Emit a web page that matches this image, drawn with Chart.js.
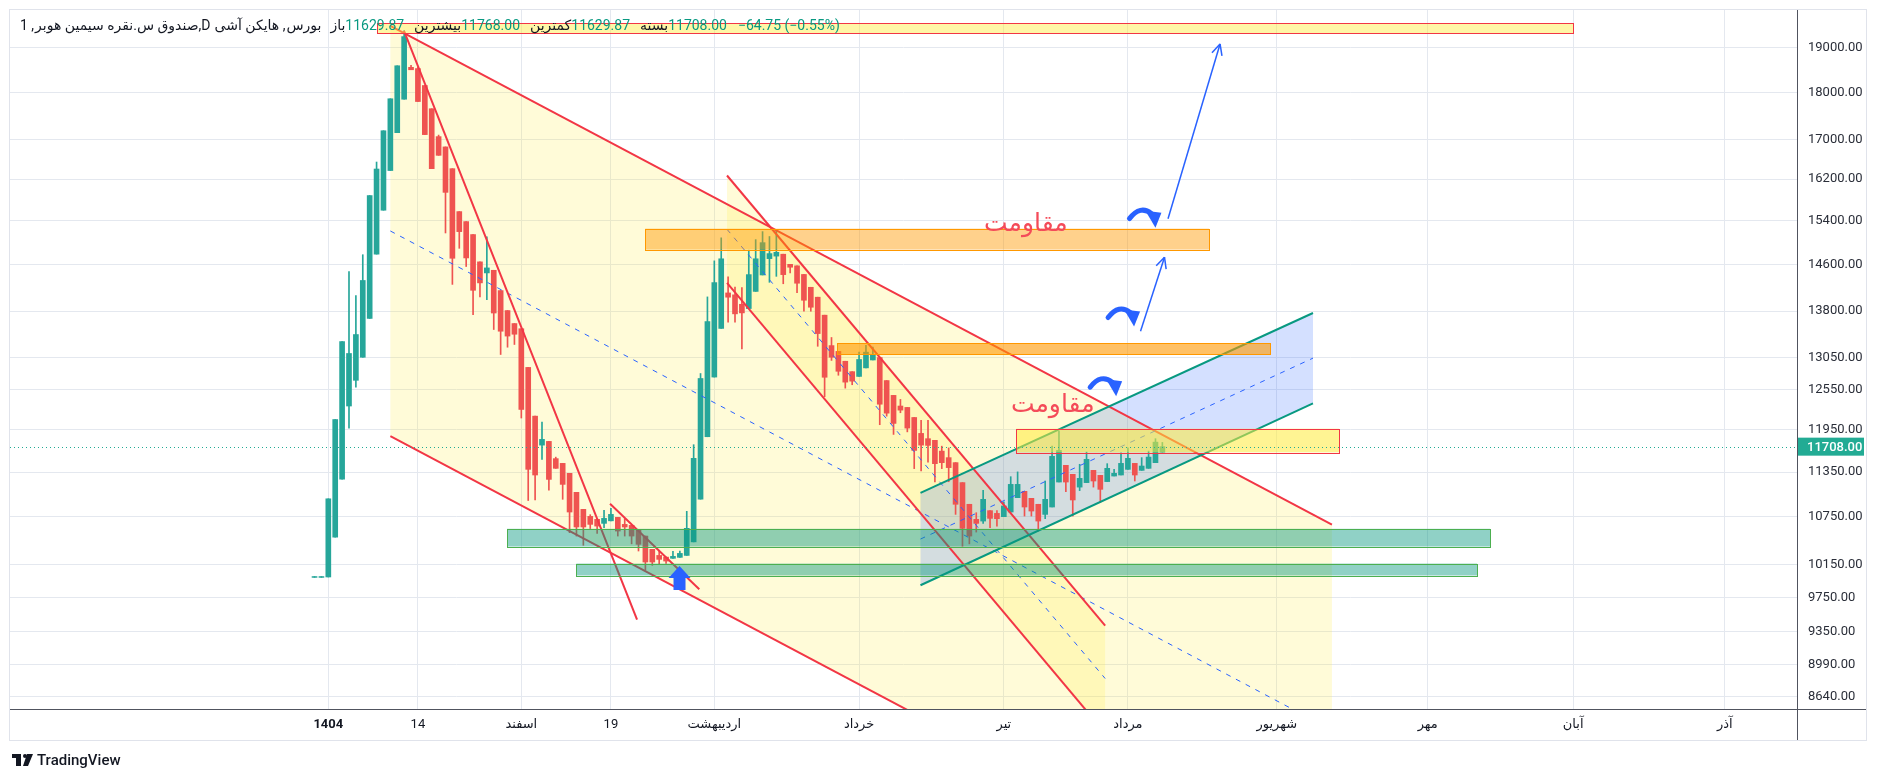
<!DOCTYPE html>
<html>
<head>
<meta charset="utf-8">
<script src="https://cdn.jsdelivr.net/npm/chart.js@4.4.1/dist/chart.umd.min.js"></script>
<style>
  html, body { margin: 0; padding: 0; background: #fff; }
  #wrap { width: 1879px; height: 781px; position: relative; }
</style>
</head>
<body>
<div id="wrap"><canvas id="chart"></canvas></div>
<script>
// Heikin Ashi candles, one per trading day (index 0 = first day)
const opens = [
  9990, 9990, 9995, 10490, 11256, 12300, 12690, 13050, 13680, 14790,
  15600, 16370, 17140, 17850, 18555, 18527, 18150, 17645, 17058, 16846,
  16407, 15574, 15386, 15146, 14652, 14457, 14503, 14150, 13811, 13595,
  13510, 12890, 12150, 11730, 11783, 11539, 11473, 11335, 11077, 10850,
  10758, 10719, 10667, 10700, 10745, 10654, 10641, 10577, 10504, 10336,
  10260, 10239, 10224, 10236, 10260, 10430, 10985, 11850, 12740, 13515,
  14110, 14077, 13917, 13845, 14136, 14421, 14710, 14755, 14789, 14608,
  14582, 14430, 14207, 14037, 13734, 13236, 13143, 12987, 12824, 12750,
  12883, 13007, 13045, 12686, 12460, 12300, 12279, 12130, 11898, 11822,
  11798, 11645, 11553, 11483, 11208, 10917, 10719, 10697, 10833, 10797,
  10754, 10815, 11005, 11090, 10996, 10917, 10784, 10881, 11216, 11446,
  11321, 11147, 11208, 11376, 11307, 11222, 11298, 11312, 11390, 11473,
  11376, 11404, 11483, 11629.87
];
const highs = [
  10000, 10000, 10990, 12100, 13300, 14480, 14065, 14780, 15880, 16540,
  17180, 17860, 18590, 19400, 18600, 18555, 18150, 17645, 17090, 16846,
  16407, 15574, 15386, 15146, 14652, 15103, 14503, 14150, 13811, 13595,
  13510, 12890, 12150, 12061, 11783, 11560, 11473, 11335, 11077, 10850,
  10780, 10719, 10837, 10863, 10745, 10728, 10641, 10577, 10504, 10336,
  10315, 10239, 10310, 10315, 10824, 11736, 12795, 14042, 14670, 15086,
  14389, 14212, 14200, 14861, 15053, 15200, 15110, 15237, 14789, 14608,
  14582, 14430, 14207, 14037, 13734, 13367, 13143, 12987, 12824, 13131,
  13241, 13214, 13045, 12686, 12460, 12399, 12279, 12130, 12087, 12087,
  11798, 11715, 11690, 11483, 11208, 10917, 10806, 11103, 10833, 10833,
  10949, 11289, 11355, 11090, 10996, 10917, 11230, 11715, 11928, 11446,
  11321, 11460, 11632, 11376, 11307, 11469, 11390, 11622, 11693, 11473,
  11553, 11645, 11822, 11768
];
const lows = [
  9990, 9990, 9995, 10490, 11256, 11975, 12585, 13050, 13680, 14790,
  15600, 16370, 17140, 17850, 18500, 17800, 17100, 16407, 16675, 15175,
  14257, 14895, 14570, 13744, 14040, 13997, 13497, 13094, 13210, 13254,
  12122, 10967, 10975, 11529, 11107, 11404, 10983, 10547, 10504, 10387,
  10600, 10539, 10612, 10700, 10504, 10504, 10405, 10315, 10079, 10137,
  10150, 10162, 10224, 10236, 10260, 10430, 10985, 11850, 12740, 13515,
  13618, 13618, 13184, 13845, 14136, 14421, 14293, 14397, 14268, 14458,
  14115, 13800, 13800, 13225, 12440, 13000, 12768, 12570, 12622, 12750,
  12883, 13007, 12024, 12150, 11883, 12200, 11920, 11400, 11367, 11491,
  11216, 11400, 11220, 10784, 10375, 10405, 10555, 10667, 10612, 10632,
  10754, 10815, 11005, 10762, 10762, 10568, 10728, 10881, 11216, 11086,
  10762, 11100, 11208, 11147, 10941, 11222, 11298, 11312, 11390, 11230,
  11376, 11404, 11483, 11629.87
];
const closes = [
  10000, 10000, 10990, 12100, 13300, 13110, 13415, 14325, 15880, 16400,
  17180, 17860, 18590, 19260, 18500, 17800, 17100, 16407, 16675, 15942,
  14716, 15200, 14722, 14155, 14283, 14545, 13770, 13469, 13390, 13420,
  12249, 11390, 11312, 11812, 11252, 11404, 11184, 10815, 10620, 10620,
  10654, 10632, 10732, 10784, 10568, 10620, 10504, 10399, 10178, 10178,
  10211, 10190, 10248, 10285, 10603, 11543, 12718, 13628, 14288, 14707,
  14037, 13756, 13772, 14427, 14707, 14998, 14800, 14823, 14427, 14557,
  14277, 13985, 13867, 13431, 12737, 13050, 12830, 12662, 12677, 13015,
  13131, 13083, 12327, 12194, 12043, 12239, 11975, 11655, 11730, 11726,
  11469, 11483, 11414, 10917, 10603, 10504, 10667, 10983, 10732, 10728,
  10895, 11184, 11184, 10881, 10828, 10697, 10983, 11571, 11655, 11216,
  10974, 11266, 11529, 11230, 11117, 11404, 11335, 11473, 11543, 11312,
  11436, 11561, 11772.75, 11708
];

// axis ticks
const xTickPos = [2, 15, 30, 43, 58, 79, 100, 118, 139.6, 161.5, 182.6, 204.6];
const xTickLabels = ['1404', '14', 'اسفند', '19', 'اردیبهشت', 'خرداد', 'تیر', 'مرداد', 'شهریور', 'مهر', 'آبان', 'آذر'];
const yTicks = [19000, 18000, 17000, 16200, 15400, 14600, 13800, 13050, 12550, 11950, 11350, 10750, 10150, 9750, 9350, 8990, 8640];

// drawings, in (day index, price)
const channelX = [[11, 147.6], [59.84, 114.7], [87.91, 144.85]];
const channelTop = [[19510, 10652], [16272, 9423], [11069, 13770]];
const channelMid = [[15212, 8300], [15243, 8836], [10466, 13036]];
const channelBottom = [[11860, 6473], [14282, 8271], [9895, 12340]];
const trendX = [[12.98, 46.79], [42.87, 55.82]];
const trendY = [[19395, 9490], [10925, 9847]];
const zoneX = [[9.07, 182.6], [47.95, 129.77], [75.8, 138.62], [101.81, 148.63], [27.93, 170.53], [37.98, 168.65]];
const zoneY = [[19336, 19579], [14872, 15255], [13094, 13278], [11627, 11966], [10371, 10597], [10013, 10159]];
const arrowX = [[123.82, 131.37], [119.83, 123.31]];
const arrowY = [[15441, 19089], [13470, 14736]];
const curveX = [120.4, 117.3, 114.7];
const curveY = [15460, 13711, 12600];
const noteX = [103.2, 107.1];
const noteY = [15330, 12308];
const noteText = ['مقاومت', 'مقاومت'];
const buyX = 52.95;
const buyY = 10130;

const UP = '#26a69a';
const DOWN = '#ef5350';
const RED = '#f23645';
const TEAL = '#089981';
const BLUE = '#2962ff';
const INK = '#131722';
const FONT = "Roboto, 'DejaVu Sans', sans-serif";

const channelFill = ['rgba(255,235,59,0.2)', 'rgba(255,235,59,0.2)', 'rgba(41,98,255,0.2)'];
const channelLine = [RED, RED, TEAL];
const zoneFill = ['rgba(255,235,59,0.45)', 'rgba(255,152,0,0.45)', 'rgba(255,152,0,0.6)', 'rgba(255,235,59,0.55)', 'rgba(8,153,129,0.45)', 'rgba(8,153,129,0.45)'];
const zoneLine = [RED, '#ff9800', '#ff9800', RED, '#4caf50', '#4caf50'];

const candleColors = opens.map((o, i) => closes[i] >= o ? UP : DOWN);
const last = closes.length - 1;
const lastPrice = closes[last];

// wanted plot box (px)
const AREA = { left: 10, top: 10, right: 1797, bottom: 709 };

function line(ctx, x0, y0, x1, y1) {
  ctx.beginPath();
  ctx.moveTo(x0, y0);
  ctx.lineTo(x1, y1);
  ctx.stroke();
}

const drawings = {
  id: 'drawings',
  beforeDatasetsDraw(chart) {
    const { ctx, chartArea: a, scales: { x, y } } = chart;
    ctx.save();
    ctx.beginPath();
    ctx.rect(a.left, a.top, a.right - a.left, a.bottom - a.top);
    ctx.clip();
    channelX.forEach((cx, i) => {
      ctx.fillStyle = channelFill[i];
      ctx.beginPath();
      ctx.moveTo(x.getPixelForValue(cx[0]), y.getPixelForValue(channelTop[i][0]));
      ctx.lineTo(x.getPixelForValue(cx[1]), y.getPixelForValue(channelTop[i][1]));
      ctx.lineTo(x.getPixelForValue(cx[1]), y.getPixelForValue(channelBottom[i][1]));
      ctx.lineTo(x.getPixelForValue(cx[0]), y.getPixelForValue(channelBottom[i][0]));
      ctx.closePath();
      ctx.fill();
    });
    ctx.restore();
  },
  afterDatasetsDraw(chart) {
    const { ctx, chartArea: a, scales: { x, y } } = chart;
    const X = v => x.getPixelForValue(v);
    const Y = v => y.getPixelForValue(v);
    ctx.save();
    ctx.beginPath();
    ctx.rect(a.left, a.top, a.right - a.left, a.bottom - a.top);
    ctx.clip();

    // channel borders and dashed middles
    channelX.forEach((cx, i) => {
      ctx.strokeStyle = channelLine[i];
      ctx.lineWidth = 2;
      ctx.setLineDash([]);
      line(ctx, X(cx[0]), Y(channelTop[i][0]), X(cx[1]), Y(channelTop[i][1]));
      line(ctx, X(cx[0]), Y(channelBottom[i][0]), X(cx[1]), Y(channelBottom[i][1]));
      ctx.strokeStyle = BLUE;
      ctx.lineWidth = 1;
      ctx.setLineDash([5, 6]);
      line(ctx, X(cx[0]), Y(channelMid[i][0]), X(cx[1]), Y(channelMid[i][1]));
    });
    ctx.setLineDash([]);

    // trend lines
    ctx.strokeStyle = RED;
    ctx.lineWidth = 2;
    trendX.forEach((tx, i) => line(ctx, X(tx[0]), Y(trendY[i][0]), X(tx[1]), Y(trendY[i][1])));

    // zones
    zoneX.forEach((zx, i) => {
      const l = X(zx[0]), r = X(zx[1]);
      const t = Y(zoneY[i][1]), b = Y(zoneY[i][0]);
      ctx.fillStyle = zoneFill[i];
      ctx.fillRect(l, t, r - l, b - t);
      ctx.strokeStyle = zoneLine[i];
      ctx.lineWidth = 1;
      ctx.strokeRect(Math.round(l) + 0.5, Math.round(t) + 0.5, Math.round(r - l), Math.round(b - t));
    });

    // straight arrows
    ctx.strokeStyle = BLUE;
    ctx.lineWidth = 1.5;
    arrowX.forEach((ax, i) => {
      const x0 = X(ax[0]), y0 = Y(arrowY[i][0]), x1 = X(ax[1]), y1 = Y(arrowY[i][1]);
      line(ctx, x0, y0, x1, y1);
      const ang = Math.atan2(y1 - y0, x1 - x0);
      [-0.45, 0.45].forEach(d => line(ctx, x1, y1, x1 - 12 * Math.cos(ang + d), y1 - 12 * Math.sin(ang + d)));
    });

    // curved arrow icons
    curveX.forEach((cxv, i) => {
      const cx = X(cxv), cy = Y(curveY[i]);
      ctx.strokeStyle = BLUE;
      ctx.fillStyle = BLUE;
      ctx.lineWidth = 5;
      ctx.lineCap = 'round';
      ctx.beginPath();
      ctx.moveTo(cx - 15, cy + 1);
      ctx.quadraticCurveTo(cx - 4, cy - 13, cx + 7, cy - 4);
      ctx.stroke();
      ctx.beginPath();
      ctx.moveTo(cx + 1, cy - 7);
      ctx.lineTo(cx + 17, cy - 5);
      ctx.lineTo(cx + 11, cy + 10);
      ctx.closePath();
      ctx.fill();
    });
    ctx.lineCap = 'butt';

    // buy arrow
    const bx = X(buyX), by = Y(buyY);
    ctx.fillStyle = BLUE;
    ctx.beginPath();
    ctx.moveTo(bx, by);
    ctx.lineTo(bx + 11, by + 12);
    ctx.lineTo(bx + 6, by + 12);
    ctx.lineTo(bx + 6, by + 24);
    ctx.lineTo(bx - 6, by + 24);
    ctx.lineTo(bx - 6, by + 12);
    ctx.lineTo(bx - 11, by + 12);
    ctx.closePath();
    ctx.fill();

    // notes
    ctx.fillStyle = '#f44b59';
    ctx.font = '25px ' + FONT;
    ctx.textAlign = 'center';
    ctx.textBaseline = 'middle';
    noteX.forEach((nx, i) => ctx.fillText(noteText[i], X(nx), Y(noteY[i])));

    // last price line
    ctx.strokeStyle = '#22ab94';
    ctx.lineWidth = 1;
    ctx.setLineDash([1, 3]);
    const ly = Math.round(Y(lastPrice)) + 0.5;
    line(ctx, a.left, ly, a.right, ly);
    ctx.restore();
  },
  afterDraw(chart) {
    const { ctx, chartArea: a, scales: { y } } = chart;
    ctx.save();
    // panel border and axis lines
    ctx.strokeStyle = '#e0e3eb';
    ctx.lineWidth = 1;
    ctx.strokeRect(9.5, 9.5, 1857, 731);
    ctx.strokeStyle = '#50535e';
    line(ctx, a.right + 0.5, a.top, a.right + 0.5, 740);
    line(ctx, a.left, a.bottom + 0.5, 1866, a.bottom + 0.5);

    // last price label
    const ly = y.getPixelForValue(lastPrice);
    ctx.fillStyle = '#22ab94';
    ctx.fillRect(a.right + 1, ly - 9, 66, 18);
    ctx.fillStyle = '#fff';
    ctx.font = '500 13px ' + FONT;
    ctx.textAlign = 'left';
    ctx.textBaseline = 'middle';
    ctx.fillText(lastPrice.toFixed(2), a.right + 10, ly + 1);

    // legend line
    ctx.font = '14px ' + FONT;
    ctx.textBaseline = 'middle';
    ctx.direction = 'ltr';
    const chg = closes[last] - closes[last - 1];
    const pct = chg / closes[last - 1] * 100;
    const signed = v => (v < 0 ? '−' : '+') + Math.abs(v).toFixed(2);
    const parts = [
      ['1 ,', INK, 1], ['نقره سیمین هوبر', INK, 0], ['.', INK, 0], ['صندوق س', INK, 0],
      [',D', INK, 4], ['هایکن آشی', INK, 0], [' ,', INK, 1], ['بورس', INK, 9],
      ['باز', INK, 0], [opens[last].toFixed(2), TEAL, 10],
      ['بیشترین', INK, 0], [highs[last].toFixed(2), TEAL, 10],
      ['کمترین', INK, 0], [lows[last].toFixed(2), TEAL, 10],
      ['بسته', INK, 0], [closes[last].toFixed(2), TEAL, 11],
      [signed(chg) + ' (' + signed(pct) + '%)', TEAL, 0]
    ];
    let tx = 20;
    parts.forEach(([t, c, gap]) => {
      ctx.fillStyle = c;
      ctx.fillText(t, tx, 26);
      tx += ctx.measureText(t).width + gap;
    });

    // logo
    ctx.fillStyle = INK;
    ctx.fillRect(12, 754, 9, 4);
    ctx.fillRect(16, 754, 5, 12);
    ctx.beginPath();
    ctx.arc(25, 756, 2, 0, Math.PI * 2);
    ctx.fill();
    ctx.beginPath();
    ctx.moveTo(27, 754); ctx.lineTo(33, 754); ctx.lineTo(28, 766); ctx.lineTo(23, 766);
    ctx.closePath();
    ctx.fill();
    ctx.font = '500 15px ' + FONT;
    ctx.textAlign = 'left';
    ctx.fillText('TradingView', 37, 761);
    ctx.restore();
  }
};

Chart.defaults.font.family = FONT;

const chart = new Chart(document.getElementById('chart'), {
  type: 'bar',
  data: {
    datasets: [
      {
        label: 'wick',
        data: highs.map((h, i) => ({ x: i, y: [lows[i], h] })),
        backgroundColor: candleColors,
        barThickness: 1,
        grouped: false,
        order: 2
      },
      {
        label: 'body',
        data: opens.map((o, i) => ({ x: i, y: [o, closes[i]] })),
        backgroundColor: candleColors,
        barThickness: 5,
        grouped: false,
        order: 1
      }
    ]
  },
  options: {
    responsive: true,
    maintainAspectRatio: false,
    animation: false,
    layout: { padding: { left: 10, top: 10, right: 13, bottom: 41 } },
    plugins: { legend: { display: false }, tooltip: { enabled: false } },
    scales: {
      x: {
        type: 'linear',
        min: -44.18,
        max: 215.07,
        offset: false,
        border: { display: false },
        grid: { color: '#e4e8ef', drawTicks: false, offset: false },
        afterBuildTicks: s => { s.ticks = xTickPos.map(v => ({ value: v })); },
        afterFit: s => { s.height = 31; s.paddingLeft = 0; s.paddingRight = 0; },
        ticks: {
          autoSkip: false,
          maxRotation: 0,
          padding: 8,
          color: INK,
          font: c => ({ size: 13, weight: c.index === 0 ? 'bold' : 'normal' }),
          callback: (v, i) => xTickLabels[i]
        }
      },
      y: {
        type: 'logarithmic',
        position: 'right',
        min: 8515,
        max: 19892,
        border: { display: false },
        grid: { color: '#e4e8ef', drawTicks: false },
        afterBuildTicks: s => { s.ticks = yTicks.map(v => ({ value: v })); },
        afterFit: s => { s.width = 69; s.paddingTop = 0; s.paddingBottom = 0; },
        ticks: {
          padding: 11,
          color: '#2a2e39',
          font: { size: 13 },
          callback: v => Number(v).toFixed(2)
        }
      }
    }
  },
  plugins: [drawings]
});

// nudge the layout padding until the plot box sits where it should
for (let k = 0; k < 3; k++) {
  const ca = chart.chartArea;
  const p = Object.assign({}, chart.options.layout.padding);
  p.top += AREA.top - ca.top;
  p.left += AREA.left - ca.left;
  p.bottom += ca.bottom - AREA.bottom;
  p.right += ca.right - AREA.right;
  chart.options.layout.padding = p;
  chart.update();
}
</script>
</body>
</html>
